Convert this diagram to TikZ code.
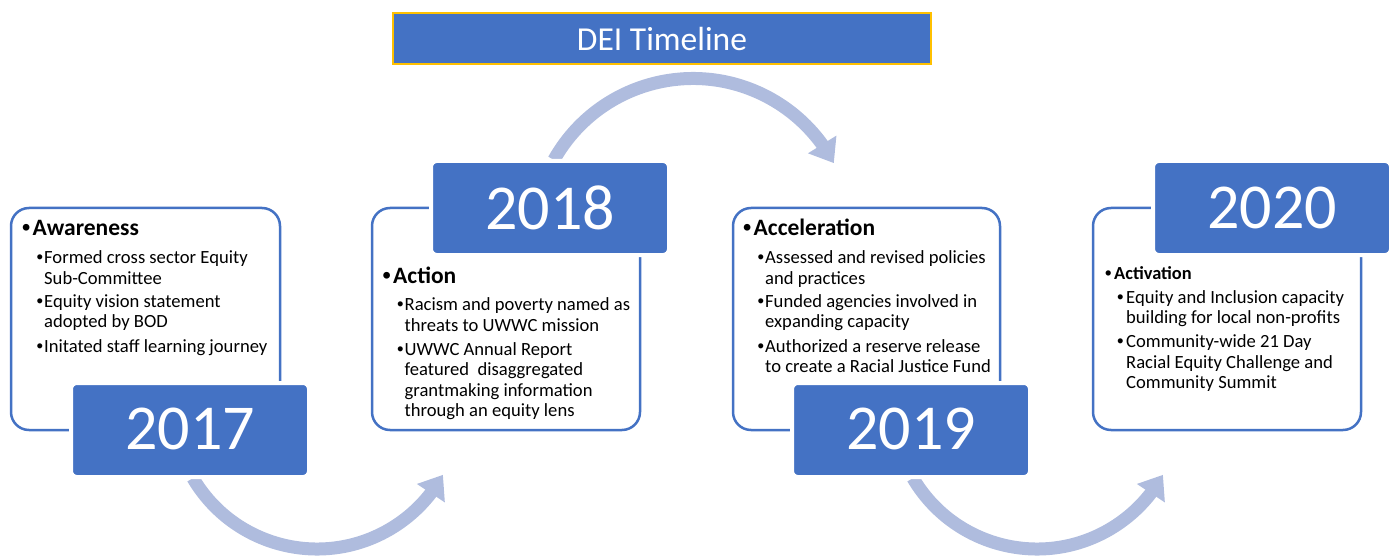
\documentclass[tikz,border=0pt]{standalone}
\usepackage{fontspec}
\setmainfont{Carlito}
\newfontfamily\dotfont{Liberation Sans}
\usetikzlibrary{arrows.meta,bending}

\definecolor{accent}{HTML}{4472C4}
\definecolor{gold}{HTML}{FFC000}
\definecolor{flowblue}{RGB}{175,188,222}

% spacing of the bullet lists inside the white panels
\newlength\headgap \newlength\subbul \newlength\subtext
\newcommand\heading[2]{{#1\makebox[\headgap][l]{\dotfont•}#2\par}}
\newcommand\entry[1]{{\leftskip=\subtext\noindent\hspace*{-\dimexpr\subtext-\subbul\relax}%
  \makebox[\dimexpr\subtext-\subbul\relax][l]{\dotfont•}#1\par}}

\tikzset{
  panel/.style={draw=accent, line width=2.5pt, fill=white, rounded corners=18pt,
    minimum width=#1, minimum height=222pt, inner sep=0pt},
  panel/.default=268pt,
  yearbox/.style={draw=white, line width=4pt, fill=accent, rounded corners=6pt,
    minimum width=238pt, minimum height=94pt, inner sep=0pt, text=white,
    font=\fontsize{64}{64}\selectfont},
  listtext/.style={anchor=base west, inner sep=0pt, text=black},
  flow/.style={draw=flowblue, line width=13pt,
    -{Triangle[length=22pt, width=32pt, flex]}},
}

\begin{document}
\begin{tikzpicture}[x=1pt, y=-1pt]
\useasboundingbox (0,0) rectangle (1397,556);

% title banner
\node[draw=gold, fill=accent, line width=2.5pt, minimum width=538pt, minimum height=51pt,
  inner sep=0pt, text=white, font=\fontsize{33.5}{33.5}\selectfont] (title) at (662,38.5)
  {\raisebox{-4pt}{DEI Timeline}};

% curved arrows between the years
\coordinate (c1) at (317,405);
\coordinate (c2) at (693,238);
\coordinate (c3) at (1037,405);
\coordinate (a1s) at ([shift={(149.5:144)}]c1);
\coordinate (a2s) at ([shift={(209.3:159.5)}]c2);
\coordinate (a3s) at ([shift={(149.5:144)}]c3);
\draw[flow] (a1s) arc[start angle=149.5, end angle=29, radius=144];
\draw[flow] (a2s) arc[start angle=209.3, end angle=332, radius=159.5];
\draw[flow] (a3s) arc[start angle=149.5, end angle=29, radius=144];

% white panels
\node[panel=269pt] (p17) at (145.5,319) {};
\node[panel] (p18) at (506,319) {};
\node[panel=267pt] (p19) at (866.5,319) {};
\node[panel] (p20) at (1227,319) {};

% panel texts
\setlength\headgap{10.5pt}\setlength\subbul{14.5pt}\setlength\subtext{22pt}
\node[listtext] (t17) at (22,236) {\parbox[t]{300pt}{\setlength\parskip{4pt}\fontsize{18.6}{20}\selectfont
  \heading{\fontsize{23.5}{20}\selectfont\bfseries}{Awareness}\vspace{4pt}
  \entry{Formed cross sector Equity\\Sub-Committee}
  \entry{Equity vision statement\\adopted by BOD}
  \entry{Initated staff learning journey}}};

\node[listtext] (t18) at (382.5,283) {\parbox[t]{300pt}{\setlength\parskip{4pt}\fontsize{18.6}{20.3}\selectfont
  \heading{\fontsize{23.5}{20}\selectfont\bfseries}{Action}\vspace{3.5pt}
  \entry{Racism and poverty named as\\threats to UWWC mission}
  \entry{UWWC Annual Report\\featured\ \ disaggregated\\grantmaking information\\through an equity lens}}};

\node[listtext] (t19) at (743,236) {\parbox[t]{300pt}{\setlength\parskip{4pt}\fontsize{18.6}{20}\selectfont
  \heading{\fontsize{23.5}{20}\selectfont\bfseries}{Acceleration}\vspace{4pt}
  \entry{Assessed and revised policies\\and practices}
  \entry{Funded agencies involved in\\expanding capacity}
  \entry{Authorized a reserve release\\to create a Racial Justice Fund}}};

\setlength\headgap{9pt}\setlength\subbul{12pt}\setlength\subtext{21pt}
\node[listtext] (t20) at (1105,279) {\parbox[t]{300pt}{\setlength\parskip{4pt}\fontsize{18.6}{20.3}\selectfont
  \heading{\fontsize{18.4}{20}\selectfont\bfseries}{Activation}
  \entry{Equity and Inclusion capacity\\building for local non-profits}
  \entry{Community-wide 21 Day\\Racial Equity Challenge and\\Community Summit}}};

% year tabs
\node[yearbox] (y17) at (190,430) {\raisebox{2pt}{2017}};
\node[yearbox] (y18) at (550,208) {\raisebox{1.5pt}{2018}};
\node[yearbox] (y19) at (911,430) {\raisebox{2pt}{2019}};
\node[yearbox] (y20) at (1272,208) {\raisebox{1.5pt}{2020}};
\end{tikzpicture}
\end{document}
